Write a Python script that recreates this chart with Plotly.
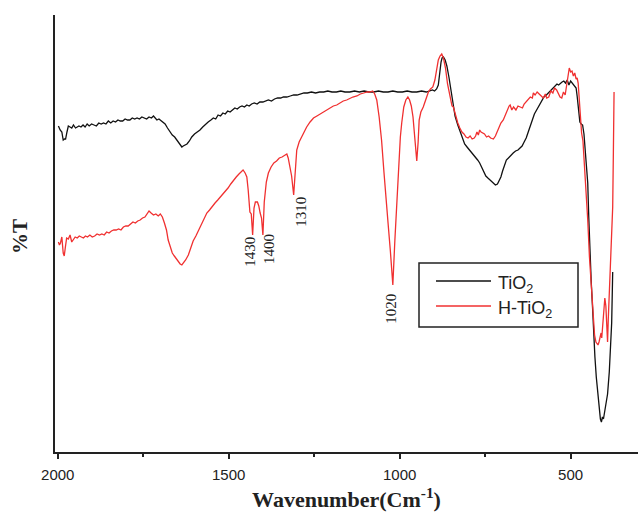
import plotly.graph_objects as go

# FTIR spectra (transmittance, arbitrary offset units) of pristine and hydrogenated TiO2
tio2_wn = [1998, 1993, 1988, 1984, 1980, 1977, 1973, 1969, 1964, 1959, 1954, 1948, 1943, 1938, 1932, 1926, 1920, 1914,
           1908, 1901, 1894, 1887, 1880, 1873, 1866, 1859, 1852, 1845, 1838, 1831, 1824, 1817, 1810, 1803, 1796, 1789,
           1782, 1775, 1768, 1761, 1754, 1747, 1740, 1733, 1726, 1720, 1716, 1710, 1704, 1698, 1692, 1686, 1679, 1672,
           1665, 1658, 1652, 1646, 1641, 1637, 1633, 1628, 1622, 1615, 1608, 1600, 1592, 1584, 1576, 1568, 1560, 1552,
           1545, 1538, 1531, 1524, 1517, 1510, 1503, 1496, 1489, 1482, 1475, 1468, 1461, 1454, 1447, 1440, 1433, 1425,
           1417, 1409, 1400, 1392, 1384, 1375, 1366, 1357, 1348, 1340, 1330, 1320, 1310, 1300, 1290, 1280, 1270, 1258,
           1246, 1234, 1222, 1210, 1198, 1185, 1172, 1160, 1146, 1132, 1118, 1104, 1090, 1076, 1062, 1048, 1034, 1020,
           1006, 992, 978, 964, 950, 936, 922, 912, 904, 898, 892, 887, 883, 879, 876, 872, 867, 862, 856, 850,
           845, 838, 830, 823, 816, 810, 803, 796, 790, 784, 778, 772, 766, 760, 754, 748, 742, 736, 731, 726,
           720, 714, 709, 704, 699, 694, 688, 682, 675, 668, 661, 654, 648, 642, 636, 630, 624, 618, 612, 606,
           599, 592, 585, 578, 571, 565, 560, 555, 550, 545, 540, 535, 530, 525, 520, 515, 510, 505, 500, 494,
           488, 484, 481, 477, 473, 469, 465, 461, 458, 454, 450, 447, 444, 440, 436, 433, 429, 425, 421, 418,
           416, 413, 410, 407, 404, 400, 396, 392, 387, 383, 380, 377]
tio2_t = [326, 322, 320, 312, 313, 313, 320, 326, 325, 324, 327, 324, 325, 326, 325, 327, 325, 328,
          326, 328, 327, 326, 329, 328, 329, 328, 331, 329, 331, 330, 332, 331, 331, 333, 332, 332,
          334, 333, 334, 333, 335, 334, 333, 335, 334, 336, 334, 332, 333, 331, 330, 328, 324, 320,
          317, 315, 312, 309, 307, 305, 306, 307, 308, 311, 315, 318, 320, 322, 325, 328, 330, 332,
          334, 333, 337, 336, 339, 338, 341, 340, 342, 344, 343, 345, 346, 345, 347, 346, 348, 349,
          348, 350, 350, 351, 352, 351, 353, 354, 354, 355, 355, 356, 357, 357, 358, 359, 359, 360,
          359, 360, 360, 361, 360, 360, 361, 360, 360, 361, 360, 361, 360, 360, 361, 360, 360, 361,
          360, 360, 361, 360, 360, 361, 360, 361, 362, 361, 363, 367, 380, 390, 394, 395, 392, 386,
          375, 362, 349, 336, 327, 320, 313, 308, 305, 302, 300, 298, 295, 292, 289, 285, 280, 276,
          274, 272, 270, 268, 267, 268, 271, 275, 281, 287, 292, 294, 297, 299, 301, 302, 304, 306,
          310, 314, 320, 327, 332, 338, 342, 347, 351, 355, 357, 359, 361, 363, 364, 366, 368, 367,
          369, 370, 371, 369, 372, 367, 371, 368, 366, 364, 356, 340, 330, 328, 327, 318, 302, 285,
          269, 235, 200, 172, 145, 118, 95, 75, 62, 50, 40, 33, 30, 35, 33, 42, 48, 58,
          80, 105, 129, 180, 220, 255]

htio2_wn = [1998, 1995, 1992, 1988, 1984, 1981, 1978, 1974, 1969, 1964, 1959, 1954, 1949, 1943, 1937, 1931, 1925, 1919,
            1913, 1906, 1899, 1892, 1885, 1878, 1871, 1864, 1857, 1850, 1843, 1836, 1829, 1822, 1815, 1808, 1801, 1794,
            1787, 1780, 1773, 1766, 1759, 1752, 1745, 1738, 1733, 1727, 1720, 1713, 1706, 1700, 1694, 1688, 1682, 1677,
            1671, 1665, 1659, 1653, 1647, 1642, 1637, 1632, 1626, 1618, 1610, 1604, 1596, 1588, 1580, 1572, 1564, 1556,
            1548, 1540, 1532, 1524, 1517, 1510, 1502, 1494, 1486, 1478, 1470, 1464, 1458, 1452, 1447, 1443, 1438, 1434,
            1430, 1426, 1422, 1416, 1412, 1408, 1404, 1400, 1396, 1390, 1384, 1376, 1368, 1360, 1352, 1344, 1336, 1330,
            1326, 1321, 1316, 1310, 1305, 1301, 1294, 1286, 1280, 1272, 1262, 1252, 1242, 1232, 1224, 1214, 1204, 1194,
            1184, 1175, 1165, 1155, 1145, 1137, 1125, 1115, 1105, 1095, 1087, 1079, 1073, 1067, 1060, 1053, 1046, 1040,
            1034, 1027, 1020, 1014, 1009, 1003, 998, 994, 988, 982, 976, 971, 966, 961, 957, 954, 950, 946,
            943, 938, 931, 924, 916, 910, 903, 897, 892, 887, 882, 877, 872, 866, 860, 853, 847, 843,
            836, 830, 824, 818, 812, 806, 800, 794, 788, 782, 778, 774, 770, 766, 762, 758, 752, 746,
            740, 734, 729, 726, 720, 714, 709, 704, 697, 690, 684, 680, 677, 672, 667, 660, 654, 648,
            641, 636, 630, 624, 618, 612, 609, 604, 598, 592, 586, 580, 574, 570, 564, 558, 552, 547,
            541, 536, 531, 526, 521, 516, 512, 508, 504, 500, 496, 492, 488, 484, 481, 478, 475, 472,
            468, 464, 460, 455, 450, 445, 439, 434, 430, 426, 422, 420, 417, 414, 411, 409, 406, 403,
            400, 397, 394, 392, 390, 387, 383, 380, 377, 375, 373]
htio2_t = [210, 207, 209, 215, 199, 196, 204, 214, 213, 217, 210, 213, 215, 214, 216, 215, 214, 216,
           215, 217, 215, 216, 218, 217, 218, 217, 220, 219, 221, 222, 222, 223, 222, 225, 226, 226,
           228, 230, 229, 231, 232, 234, 235, 238, 241, 239, 237, 238, 236, 238, 235, 229, 222, 212,
           205, 199, 196, 193, 190, 188, 187, 189, 192, 197, 205, 211, 216, 222, 228, 233, 239, 242,
           246, 249, 252, 255, 258, 261, 264, 268, 272, 275, 278, 280, 282, 279, 275, 262, 240, 238,
           217, 244, 250, 250, 246, 239, 234, 217, 250, 270, 279, 285, 289, 291, 294, 295, 297, 298,
           294, 284, 276, 257, 290, 302, 310, 316, 320, 325, 330, 334, 336, 338, 340, 342, 344, 346,
           347, 349, 351, 352, 354, 355, 356, 358, 359, 360, 360, 361, 358, 352, 335, 312, 280, 258,
           229, 200, 167, 212, 245, 290, 315, 329, 345, 352, 355, 352, 346, 335, 320, 305, 291, 310,
           332, 340, 345, 352, 360, 363, 365, 372, 381, 392, 396, 398, 394, 384, 368, 355, 346, 345,
           336, 329, 324, 320, 318, 315, 314, 316, 313, 314, 316, 320, 317, 322, 320, 319, 318, 315,
           316, 314, 313, 313, 316, 321, 326, 329, 332, 338, 344, 346, 347, 342, 345, 342, 346, 345,
           344, 348, 350, 352, 355, 354, 359, 357, 360, 358, 356, 354, 358, 354, 355, 361, 359, 364,
           362, 358, 355, 354, 360, 357, 365, 376, 384, 380, 381, 376, 379, 373, 374, 369, 350, 342,
           319, 311, 290, 262, 232, 195, 162, 130, 117, 110, 108, 107, 110, 116, 119, 114, 126, 140,
           154, 146, 128, 110, 132, 158, 179, 208, 245, 300, 360]

# Marked absorption bands of H-TiO2
band_wn = [1430, 1400, 1310, 1020]
band_labels = ["1430", "1400", "1310", "1020"]

series_names = ["TiO<sub>2</sub>", "H-TiO<sub>2</sub>"]
series_colors = ["#111111", "#f03030"]

x_ticks = [2000, 1500, 1000, 500]
x_tick_text = ["2000", "1500", "1000", "500"]

W, H = 638, 515
ML, MR, MT, MB = 55, 0, 15, 63
PW, PH = W - ML - MR, H - MT - MB


def px(x):
    return (x - ML) / PW


def py(y):
    return (H - MB - y) / PH


fig = go.Figure()
fig.add_trace(go.Scatter(x=tio2_wn, y=tio2_t, mode="lines", name=series_names[0],
                         line=dict(color=series_colors[0], width=1.3), showlegend=False))
fig.add_trace(go.Scatter(x=htio2_wn, y=htio2_t, mode="lines", name=series_names[1],
                         line=dict(color=series_colors[1], width=1.3), showlegend=False))

# band labels, rotated and placed below each marked minimum
label_shift = {"1430": (-3, -17), "1400": (6, -14), "1310": (7, -17), "1020": (-2, -24)}
for wn, lab in zip(band_wn, band_labels):
    yv = htio2_t[htio2_wn.index(wn)]
    dx, dy = label_shift[lab]
    fig.add_annotation(x=wn, y=yv, text=lab, showarrow=False, textangle=-90,
                       xanchor="center", yanchor="middle", xshift=dx, yshift=dy,
                       font=dict(family="Liberation Serif", size=15, color="#222"))

# legend box drawn in paper coordinates
bx0, bx1, by0, by1 = 419, 578, 263, 327
fig.add_shape(type="rect", xref="paper", yref="paper", x0=px(bx0), x1=px(bx1), y0=py(by1), y1=py(by0),
              line=dict(color="#222", width=1.5), fillcolor="rgba(0,0,0,0)")
for i, (nm, col) in enumerate(zip(series_names, series_colors)):
    ly = 281 + i * 25
    fig.add_shape(type="line", xref="paper", yref="paper", x0=px(436), x1=px(491), y0=py(ly), y1=py(ly),
                  line=dict(color=col, width=1.3))
    fig.add_annotation(xref="paper", yref="paper", x=px(496), y=py(ly), text=nm, showarrow=False,
                       xanchor="left", yanchor="middle", yshift=-3,
                       font=dict(family="Liberation Sans", size=18, color="#222"))

fig.add_annotation(xref="paper", yref="paper", x=px(20), y=py(237), text="<b>%T</b>", showarrow=False,
                   textangle=-90, xanchor="center", yanchor="middle",
                   font=dict(family="Liberation Serif", size=21, color="#222"))

fig.update_layout(
    width=W, height=H,
    margin=dict(l=ML, r=MR, t=MT, b=MB),
    paper_bgcolor="white", plot_bgcolor="white",
    xaxis=dict(range=[2008, 303], showline=True, linecolor="#222", linewidth=2, mirror=False,
               showgrid=False, zeroline=False,
               tickmode="array", tickvals=x_ticks, ticktext=x_tick_text,
               ticks="outside", ticklen=5, tickwidth=2, tickcolor="#222",
               minor=dict(ticks="outside", ticklen=3, tickwidth=2, tickcolor="#222",
                          tickmode="linear", tick0=0, dtick=250),
               ticklabelstandoff=3,
               tickfont=dict(family="Liberation Sans", size=15, color="#222"),
               title=dict(text="<b>Wavenumber(Cm<sup>-1</sup>)</b>", standoff=10,
                          font=dict(family="Liberation Serif", size=22, color="#222"))),
    yaxis=dict(range=[0, 437], showline=True, linecolor="#222", linewidth=2,
               showgrid=False, zeroline=False, showticklabels=False, ticks=""),
)

fig.write_html("out.html")
